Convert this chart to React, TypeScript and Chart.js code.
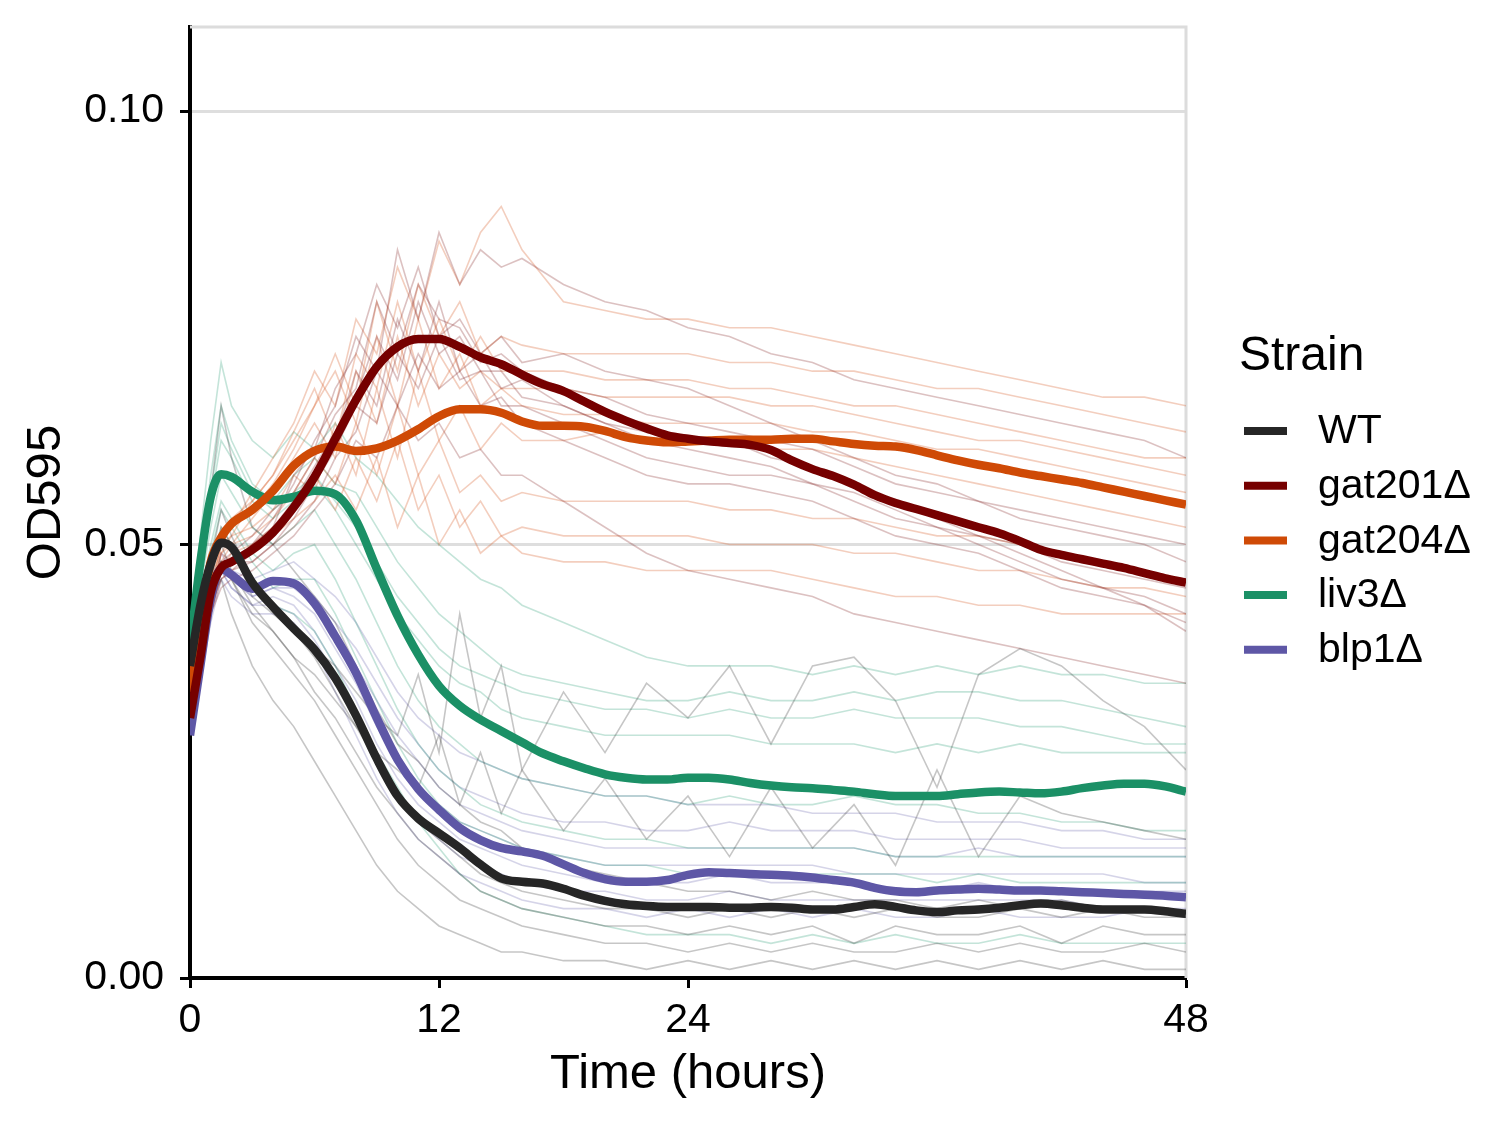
import React, { useEffect, useRef } from "react";
import { Chart, registerables } from "chart.js";

Chart.register(...registerables);

const FONT = "'Liberation Sans', Arial, Helvetica, sans-serif";

// ---- categories / legend ----
const strains = ["WT", "gat201Δ", "gat204Δ", "liv3Δ", "blp1Δ"];
const strainColors = ["#262626", "#760000", "#CF4A06", "#1B9066", "#5E57A6"];
const replicateColors = [
  "rgba(45,45,45,0.27)",
  "rgba(125,25,25,0.27)",
  "rgba(215,85,30,0.29)",
  "rgba(27,150,110,0.26)",
  "rgba(94,87,166,0.26)",
];

// ---- axes ----
const xTicks = [0, 12, 24, 48];
const yTicks = [0, 0.05, 0.1];
const xTitle = "Time (hours)";
const yTitle = "OD595";
const legendTitle = "Strain";

// ---- smoothed means (OD595) ----
const meanHours = [0, 0.5, 1, 1.5, 2, 3, 4, 5, 6, 7, 8, 9, 10, 11, 12, 13, 14, 15, 16, 17, 18, 19, 20, 21, 22, 23, 24, 25, 26, 27, 28, 29, 30, 31, 32, 33, 34, 35, 36, 37, 38, 39, 40, 41, 42, 43, 44, 45, 46, 47, 48];

const wtMean = [0.036, 0.043, 0.0478, 0.0502, 0.0497,
  0.0456, 0.0428, 0.0403, 0.0379, 0.0346, 0.0303, 0.0253, 0.021, 0.0184, 0.0167,
  0.015, 0.0131, 0.0115, 0.0111, 0.0109, 0.0103, 0.0095, 0.0089, 0.0085, 0.0083,
  0.0082, 0.0082, 0.0082, 0.0081, 0.0081, 0.0082, 0.0081, 0.0079, 0.0079, 0.0082,
  0.0085, 0.0082, 0.0078, 0.0076, 0.0078, 0.0079, 0.0081, 0.0084, 0.0086, 0.0084,
  0.0081, 0.0079, 0.0079, 0.0079, 0.0077, 0.0074];

const gat201Mean = [0.030, 0.037, 0.0445, 0.0473, 0.048,
  0.0494, 0.0514, 0.0543, 0.0578, 0.0622, 0.0667, 0.0705, 0.0728, 0.0737, 0.0737,
  0.0728, 0.0716, 0.0708, 0.0696, 0.0685, 0.0677, 0.0665, 0.0653, 0.0643, 0.0634,
  0.0626, 0.0622, 0.0619, 0.0617, 0.0615, 0.0609, 0.0597, 0.0587, 0.0579, 0.0569,
  0.0557, 0.0548, 0.0541, 0.0534, 0.0527, 0.052, 0.0513, 0.0504, 0.0494, 0.0488,
  0.0483, 0.0478, 0.0473, 0.0467, 0.0461, 0.0456];

const gat204Mean = [0.033, 0.041, 0.048, 0.0508, 0.0524,
  0.054, 0.0562, 0.0591, 0.0608, 0.0613, 0.0608, 0.0611, 0.062, 0.0633, 0.0648,
  0.0656, 0.0656, 0.0652, 0.0642, 0.0637, 0.0637, 0.0636, 0.0631, 0.0624, 0.062,
  0.0618, 0.0619, 0.062, 0.0621, 0.0621, 0.0621, 0.0622, 0.0622, 0.0619, 0.0616,
  0.0614, 0.0613, 0.0609, 0.0603, 0.0597, 0.0592, 0.0588, 0.0583, 0.0579, 0.0575,
  0.0571, 0.0566, 0.0561, 0.0556, 0.0551, 0.0546];

const liv3Mean = [0.038, 0.048, 0.0555, 0.0581, 0.0578,
  0.0561, 0.0551, 0.0555, 0.0562, 0.0558, 0.0528, 0.0472, 0.0418, 0.0373, 0.0337,
  0.0314, 0.0298, 0.0285, 0.0272, 0.0259, 0.025, 0.0242, 0.0235, 0.0231, 0.0229,
  0.0229, 0.0231, 0.0231, 0.0229, 0.0225, 0.0222, 0.022, 0.0219, 0.0217, 0.0215,
  0.0212, 0.021, 0.021, 0.021, 0.0212, 0.0214, 0.0215, 0.0214, 0.0213, 0.0215,
  0.0219, 0.0222, 0.0224, 0.0224, 0.0221, 0.0215];

const blp1Mean = [0.028, 0.036, 0.0438, 0.0472, 0.0465,
  0.0449, 0.0458, 0.0455, 0.0432, 0.0394, 0.0352, 0.030, 0.0252, 0.0218, 0.0194,
  0.0173, 0.0159, 0.015, 0.0146, 0.0141, 0.0131, 0.0121, 0.0114, 0.0111, 0.0111,
  0.0113, 0.0119, 0.0122, 0.0121, 0.012, 0.0119, 0.0118, 0.0116, 0.0113, 0.011,
  0.0104, 0.01, 0.0099, 0.0101, 0.0102, 0.0103, 0.0102, 0.0101, 0.0101, 0.01,
  0.0099, 0.0098, 0.0097, 0.0096, 0.0095, 0.0093];

// ---- individual wells (milli-OD595) ----
const repHours = [0, 1, 1.5, 2, 3, 4, 5, 6, 7, 8, 9, 10, 11, 12, 13, 14, 15, 16, 18, 20, 22, 24, 26, 28, 30, 32, 34, 36, 38, 40, 42, 44, 46, 48];

const wtReps = [
  [36, 56, 66, 60, 52, 50, 47, 44, 41, 36, 31, 27, 25, 22, 20, 18, 17, 15, 13, 12, 11, 10, 10, 9, 10, 9, 9, 8, 9, 8, 9, 8, 8, 7],
  [35, 45, 52, 50, 44, 42, 40, 38, 36, 33, 30, 28, 35, 26, 42, 30, 36, 24, 33, 26, 34, 30, 36, 27, 36, 37, 32, 22, 35, 38, 36, 32, 29, 24],
  [36, 46, 48, 46, 42, 40, 37, 35, 32, 29, 26, 24, 22, 28, 20, 26, 19, 24, 17, 23, 16, 21, 14, 22, 15, 20, 13, 24, 14, 21, 19, 18, 17, 16],
  [37, 47, 50, 47, 43, 40, 37, 33, 30, 26, 22, 19, 16, 14, 12, 10, 9, 8, 7, 6, 6, 5, 6, 5, 6, 4, 6, 5, 5, 6, 4, 6, 5, 5],
  [35, 44, 46, 42, 36, 32, 29, 25, 21, 17, 13, 10, 8, 6, 5, 4, 3, 3, 2, 2, 1, 2, 1, 2, 1, 2, 1, 2, 1, 2, 1, 2, 1, 1],
  [36, 45, 48, 46, 41, 38, 35, 32, 28, 24, 20, 16, 13, 11, 9, 8, 7, 6, 5, 4, 4, 3, 4, 3, 4, 3, 3, 4, 3, 4, 3, 3, 4, 3],
  [36, 48, 54, 51, 46, 43, 40, 37, 33, 29, 25, 21, 18, 16, 14, 12, 11, 10, 9, 8, 8, 7, 8, 7, 8, 7, 8, 7, 7, 8, 7, 8, 7, 7],
];

const gat201Reps = [
  [32, 44, 47, 48, 50, 53, 57, 62, 66, 74, 70, 84, 76, 86, 80, 84, 82, 83, 80, 78, 77, 75, 74, 72, 71, 69, 68, 67, 66, 65, 64, 63, 62, 60],
  [31, 43, 46, 47, 49, 52, 58, 61, 68, 72, 80, 75, 82, 74, 76, 72, 74, 71, 72, 70, 69, 68, 66, 64, 62, 60, 58, 57, 55, 54, 53, 52, 51, 50],
  [30, 42, 47, 48, 49, 51, 54, 58, 62, 70, 66, 76, 70, 78, 70, 72, 68, 69, 66, 64, 63, 62, 62, 60, 59, 57, 55, 53, 51, 49, 47, 45, 44, 42],
  [30, 43, 49, 48, 48, 50, 52, 55, 60, 63, 70, 66, 72, 68, 70, 66, 67, 64, 62, 60, 58, 57, 57, 56, 55, 53, 51, 50, 49, 47, 45, 44, 43, 40],
  [31, 42, 45, 46, 47, 49, 51, 54, 57, 62, 60, 66, 62, 64, 60, 61, 58, 58, 55, 52, 49, 47, 46, 45, 44, 42, 41, 40, 39, 38, 37, 36, 35, 34],
  [31, 44, 48, 49, 51, 54, 56, 60, 65, 68, 78, 72, 80, 76, 75, 71, 72, 70, 68, 67, 65, 64, 63, 62, 61, 59, 57, 56, 55, 53, 52, 51, 50, 48],
  [31, 43, 47, 48, 50, 52, 55, 59, 63, 67, 74, 69, 78, 72, 74, 70, 70, 67, 66, 64, 62, 61, 60, 59, 57, 56, 54, 52, 51, 50, 48, 47, 46, 45],
  [30, 42, 46, 47, 48, 50, 53, 57, 61, 66, 64, 72, 68, 74, 69, 70, 66, 66, 64, 62, 60, 59, 58, 58, 57, 55, 53, 52, 50, 48, 46, 45, 43, 41],
];

const gat204Reps = [
  [34, 45, 50, 52, 56, 60, 64, 70, 66, 76, 72, 82, 76, 85, 80, 86, 89, 84, 78, 77, 76, 76, 75, 75, 74, 73, 72, 71, 70, 69, 68, 67, 67, 66],
  [33, 44, 49, 51, 55, 58, 62, 66, 72, 66, 78, 70, 80, 74, 78, 72, 74, 73, 72, 72, 72, 72, 71, 71, 70, 70, 69, 68, 68, 67, 66, 65, 64, 63],
  [33, 43, 48, 50, 53, 56, 60, 64, 60, 70, 64, 74, 66, 72, 68, 70, 68, 68, 68, 67, 67, 67, 67, 66, 66, 65, 64, 63, 62, 62, 61, 60, 59, 58],
  [32, 44, 50, 51, 52, 54, 58, 56, 64, 58, 68, 60, 70, 62, 66, 61, 64, 62, 62, 63, 62, 62, 62, 61, 61, 60, 59, 58, 57, 56, 55, 54, 53, 52],
  [32, 43, 47, 49, 50, 52, 54, 58, 54, 60, 55, 62, 54, 58, 52, 55, 51, 52, 51, 51, 51, 51, 50, 50, 50, 49, 49, 48, 47, 47, 46, 45, 45, 44],
  [33, 44, 48, 48, 49, 51, 53, 55, 58, 54, 60, 52, 58, 50, 54, 49, 51, 49, 48, 48, 47, 47, 47, 47, 46, 45, 44, 44, 43, 43, 42, 42, 42, 42],
  [34, 46, 51, 53, 55, 58, 63, 68, 62, 72, 68, 78, 70, 76, 70, 74, 70, 70, 70, 69, 69, 69, 68, 68, 67, 66, 66, 65, 64, 63, 62, 61, 60, 60],
  [33, 45, 50, 52, 54, 57, 61, 66, 70, 64, 74, 66, 76, 68, 72, 66, 68, 66, 65, 65, 64, 64, 64, 64, 63, 63, 62, 61, 61, 60, 59, 58, 57, 56],
  [32, 44, 49, 50, 51, 53, 56, 60, 57, 64, 58, 66, 58, 62, 56, 58, 55, 56, 55, 55, 55, 55, 54, 54, 53, 53, 52, 51, 51, 50, 49, 48, 47, 46],
];

const liv3Reps = [
  [40, 62, 71, 66, 62, 60, 63, 61, 64, 60, 58, 55, 52, 50, 48, 46, 45, 43, 41, 39, 37, 36, 36, 36, 35, 36, 35, 36, 35, 36, 35, 35, 34, 34],
  [39, 58, 66, 62, 57, 55, 58, 60, 57, 56, 52, 48, 45, 42, 40, 38, 36, 35, 34, 33, 32, 32, 33, 32, 32, 33, 32, 33, 33, 32, 32, 31, 30, 29],
  [38, 55, 62, 60, 55, 53, 55, 57, 54, 50, 46, 42, 39, 36, 34, 33, 31, 30, 29, 28, 28, 28, 28, 27, 27, 27, 26, 27, 26, 27, 26, 26, 26, 26],
  [38, 52, 58, 56, 52, 50, 52, 54, 50, 46, 41, 36, 32, 29, 27, 25, 24, 23, 22, 21, 21, 20, 21, 20, 20, 21, 20, 20, 19, 19, 18, 18, 17, 17],
  [37, 50, 55, 53, 49, 47, 49, 50, 46, 41, 36, 31, 27, 24, 22, 20, 19, 18, 17, 16, 16, 15, 15, 15, 15, 15, 14, 14, 14, 14, 14, 14, 14, 14],
  [37, 48, 52, 50, 46, 43, 42, 40, 36, 31, 26, 22, 18, 15, 12, 10, 9, 8, 7, 6, 5, 5, 5, 4, 5, 4, 5, 4, 4, 5, 4, 4, 4, 4],
  [39, 56, 64, 61, 56, 54, 56, 58, 55, 52, 48, 44, 41, 38, 36, 35, 34, 33, 32, 31, 31, 30, 31, 30, 30, 31, 30, 30, 30, 29, 29, 28, 27, 27],
  [37, 49, 54, 52, 48, 45, 46, 46, 42, 37, 32, 27, 23, 20, 18, 17, 16, 15, 14, 13, 13, 12, 12, 12, 12, 12, 12, 11, 12, 11, 11, 11, 11, 11],
];

const blp1Reps = [
  [30, 44, 49, 47, 46, 47, 48, 46, 44, 41, 37, 33, 30, 28, 26, 25, 24, 23, 22, 21, 21, 20, 20, 20, 19, 19, 19, 18, 18, 18, 17, 17, 16, 16],
  [29, 43, 48, 46, 44, 45, 45, 43, 40, 36, 32, 28, 25, 22, 20, 19, 18, 17, 16, 15, 15, 15, 15, 15, 15, 15, 14, 14, 15, 14, 14, 14, 14, 14],
  [28, 42, 47, 45, 43, 44, 43, 40, 36, 32, 27, 23, 20, 18, 16, 15, 14, 13, 12, 11, 11, 11, 12, 11, 11, 11, 10, 10, 11, 10, 10, 10, 10, 10],
  [28, 41, 46, 44, 42, 42, 41, 38, 33, 28, 23, 19, 16, 14, 12, 11, 10, 9, 8, 8, 7, 8, 7, 8, 7, 8, 7, 7, 8, 7, 7, 7, 8, 7],
  [29, 43, 48, 47, 45, 46, 46, 44, 41, 38, 34, 30, 27, 24, 22, 21, 20, 19, 18, 18, 17, 17, 18, 17, 17, 17, 16, 16, 16, 16, 15, 15, 15, 15],
  [29, 42, 47, 46, 44, 45, 44, 42, 38, 34, 29, 25, 22, 20, 18, 17, 16, 15, 14, 13, 13, 13, 13, 13, 13, 12, 12, 12, 12, 12, 12, 12, 11, 11],
  [28, 42, 47, 45, 43, 43, 42, 39, 35, 30, 25, 21, 18, 16, 14, 13, 12, 11, 10, 10, 9, 9, 10, 9, 9, 9, 9, 9, 9, 9, 9, 8, 8, 8],
];

const meanSeries = [wtMean, gat201Mean, gat204Mean, liv3Mean, blp1Mean];
const repSeries = [wtReps, gat201Reps, gat204Reps, liv3Reps, blp1Reps];

// ---- layout constants ----
const W = 1500;
const H = 1125;
const AREA_LEFT = 190;
const AREA_TOP = 27;
const AREA_RIGHT = 1186;
const AREA_BOTTOM = 978;
const Y_MAX = 0.1097;

const decorPlugin = {
  id: "decor",
  beforeDatasetsDraw(chart: any) {
    const { ctx, chartArea: a } = chart;
    ctx.save();
    ctx.strokeStyle = "#DCDCDC";
    ctx.lineWidth = 3;
    ctx.beginPath();
    ctx.moveTo(a.left, a.top);
    ctx.lineTo(a.right, a.top);
    ctx.lineTo(a.right, a.bottom);
    ctx.stroke();
    ctx.restore();
  },
  afterDraw(chart: any) {
    const { ctx, chartArea: a } = chart;
    ctx.save();
    ctx.fillStyle = "#000";
    ctx.textBaseline = "middle";
    ctx.textAlign = "center";
    ctx.font = `49px ${FONT}`;
    ctx.fillText(xTitle, (a.left + a.right) / 2, 1074);
    ctx.save();
    ctx.translate(46, (a.top + a.bottom) / 2);
    ctx.rotate(-Math.PI / 2);
    ctx.fillText(yTitle, 0, 0);
    ctx.restore();

    ctx.textAlign = "left";
    ctx.font = `48px ${FONT}`;
    ctx.fillText(legendTitle, 1239, 357);
    ctx.font = `41px ${FONT}`;
    strains.forEach((s, i) => {
      const y = 431 + i * 54.7;
      ctx.strokeStyle = strainColors[i];
      ctx.lineWidth = 8;
      ctx.beginPath();
      ctx.moveTo(1244, y);
      ctx.lineTo(1287, y);
      ctx.stroke();
      ctx.fillStyle = "#000";
      ctx.fillText(s, 1318, y + 1);
    });
    ctx.restore();
  },
};

export default function App() {
  const ref = useRef<HTMLCanvasElement | null>(null);

  useEffect(() => {
    if (!ref.current) return;
    const datasets: any[] = [];
    meanSeries.forEach((m, s) => {
      datasets.push({
        label: strains[s],
        data: m.map((v, i) => ({ x: meanHours[i], y: v })),
        borderColor: strainColors[s],
        borderWidth: 8.5,
        pointRadius: 0,
        cubicInterpolationMode: "monotone",
        fill: false,
        order: 0,
      });
    });
    repSeries.forEach((reps, s) => {
      reps.forEach((r, k) => {
        datasets.push({
          label: `${strains[s]} well ${k + 1}`,
          data: r.map((v, i) => ({ x: repHours[i], y: v / 1000 })),
          borderColor: replicateColors[s],
          borderWidth: 1.6,
          pointRadius: 0,
          tension: 0,
          fill: false,
          order: 10,
        });
      });
    });

    const chart = new Chart(ref.current, {
      type: "line",
      data: { datasets },
      plugins: [decorPlugin],
      options: {
        animation: false,
        responsive: false,
        devicePixelRatio: 1,
        layout: {
          padding: { left: 0, top: AREA_TOP, right: W - AREA_RIGHT, bottom: 0 },
        },
        plugins: { legend: { display: false }, tooltip: { enabled: false } },
        scales: {
          x: {
            type: "linear",
            min: 0,
            max: 48,
            afterBuildTicks: (scale: any) => {
              scale.ticks = xTicks.map((v) => ({ value: v }));
            },
            afterFit: (scale: any) => {
              scale.height = H - AREA_BOTTOM;
              scale.paddingLeft = 0;
              scale.paddingRight = 0;
            },
            grid: {
              drawOnChartArea: false,
              drawTicks: true,
              tickLength: 10,
              tickColor: "#000",
              tickWidth: 3,
            },
            border: { display: true, color: "#000", width: 4 },
            ticks: {
              color: "#000",
              font: { family: FONT, size: 41 },
              padding: 8,
              maxRotation: 0,
              autoSkip: false,
              callback: (v: any) => String(v),
            },
          },
          y: {
            type: "linear",
            min: 0,
            max: Y_MAX,
            afterBuildTicks: (scale: any) => {
              scale.ticks = yTicks.map((v) => ({ value: v }));
            },
            afterFit: (scale: any) => {
              scale.width = AREA_LEFT;
              scale.paddingTop = 0;
              scale.paddingBottom = 0;
            },
            grid: {
              color: (c: any) => (c.tick && c.tick.value === 0 ? "rgba(0,0,0,0)" : "#DEDEDE"),
              lineWidth: 3,
              drawTicks: true,
              tickLength: 10,
              tickColor: "#000",
              tickWidth: 3,
            },
            border: { display: true, color: "#000", width: 4 },
            ticks: {
              color: "#000",
              font: { family: FONT, size: 41 },
              padding: 16,
              autoSkip: false,
              callback: (v: any) => Number(v).toFixed(2),
            },
          },
        },
      },
    } as any);
    return () => chart.destroy();
  }, []);

  return (
    <div style={{ position: "absolute", left: 0, top: 0, width: W, height: H, background: "#fff" }}>
      <canvas ref={ref} width={W} height={H} style={{ display: "block", width: W, height: H }} />
    </div>
  );
}
